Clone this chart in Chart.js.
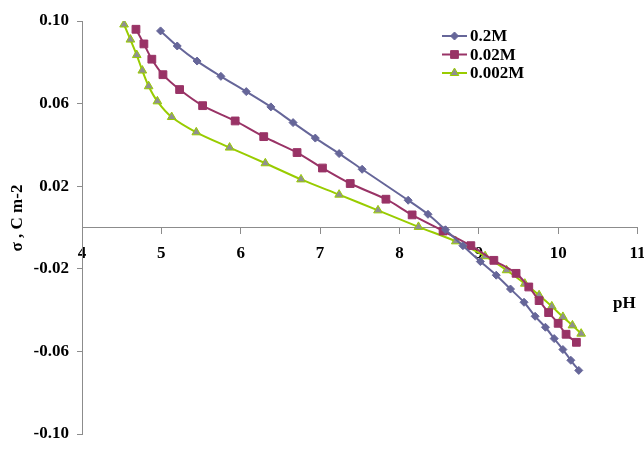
<!DOCTYPE html>
<html>
<head>
<meta charset="utf-8">
<script src="https://cdn.jsdelivr.net/npm/chart.js@4"></script>
<style>
  html, body { margin: 0; padding: 0; background: #fff; }
  #wrap { position: relative; width: 644px; height: 456px; }
</style>
</head>
<body>
<div id="wrap"><canvas id="chart" width="644" height="456"></canvas></div>
<script>
// pH values and surface charge (C m-2) per electrolyte concentration
const ph02   = [4.99, 5.20, 5.45, 5.75, 6.07, 6.38, 6.66, 6.94, 7.24, 7.53, 8.11, 8.36, 8.58, 8.80, 9.02, 9.22, 9.40, 9.57, 9.71, 9.84, 9.95, 10.06, 10.16, 10.26];
const sig02  = [0.0952, 0.0879, 0.0806, 0.0732, 0.0658, 0.0584, 0.0508, 0.0433, 0.0358, 0.0282, 0.0132, 0.0064, -0.0011, -0.0088, -0.0165, -0.0231, -0.0298, -0.0362, -0.0430, -0.0483, -0.0538, -0.0591, -0.0643, -0.0692];

const ph002  = [4.68, 4.78, 4.88, 5.02, 5.23, 5.52, 5.93, 6.29, 6.71, 7.03, 7.38, 7.83, 8.16, 8.55, 8.90, 9.19, 9.47, 9.63, 9.76, 9.88, 10.00, 10.10, 10.23];
const sig002 = [0.0960, 0.0889, 0.0815, 0.0740, 0.0668, 0.0590, 0.0516, 0.0440, 0.0363, 0.0288, 0.0213, 0.0137, 0.0061, -0.0017, -0.0088, -0.0159, -0.0222, -0.0288, -0.0354, -0.0412, -0.0464, -0.0517, -0.0556];

const ph0002  = [4.53, 4.61, 4.69, 4.76, 4.84, 4.95, 5.13, 5.44, 5.86, 6.31, 6.76, 7.24, 7.73, 8.24, 8.71, 9.08, 9.35, 9.58, 9.76, 9.92, 10.06, 10.18, 10.29];
const sig0002 = [0.0983, 0.0910, 0.0835, 0.0760, 0.0684, 0.0611, 0.0535, 0.0461, 0.0387, 0.0311, 0.0233, 0.0159, 0.0083, 0.0003, -0.0067, -0.0139, -0.0207, -0.0272, -0.0328, -0.0382, -0.0433, -0.0474, -0.0514];

const seriesNames = ['0.2M', '0.02M', '0.002M'];
const yTicks = [-0.10, -0.06, -0.02, 0.02, 0.06, 0.10];

const FONT = '"Liberation Serif", "Times New Roman", serif';
const AXIS = '#8c8c8c';

const pts = (xs, ys) => xs.map((x, i) => ({ x, y: ys[i] }));

const STYLES = [
  { color: '#666699', fill: '#666699', point: 'rectRot',  radius: 4 },
  { color: '#993366', fill: '#993366', point: 'rect',     radius: 5.5 },
  { color: '#99cc00', fill: '#909090', point: 'triangle', radius: 5 },
];

const datasets = [pts(ph02, sig02), pts(ph002, sig002), pts(ph0002, sig0002)].map((data, i) => ({
  label:            seriesNames[i],
  data,
  showLine:         true,
  borderColor:      STYLES[i].color,
  borderWidth:      2,
  pointStyle:       STYLES[i].point,
  pointRadius:      STYLES[i].radius,
  pointBackgroundColor: STYLES[i].fill,
  pointBorderColor: STYLES[i].color,
  pointBorderWidth: 1,
  tension:          0.3,
}));

// legend, axis titles
const extras = {
  id: 'extras',
  afterDraw(chart) {
    const ctx = chart.ctx;
    ctx.save();
    ctx.font = `bold 17px ${FONT}`;
    ctx.fillStyle = '#000';
    ctx.textBaseline = 'middle';

    seriesNames.forEach((name, i) => {
      const y = 36 + i * 18.5;
      const s = STYLES[i];
      ctx.strokeStyle = s.color;
      ctx.lineWidth = 2;
      ctx.beginPath(); ctx.moveTo(442, y); ctx.lineTo(467, y); ctx.stroke();
      ctx.fillStyle = s.fill;
      ctx.strokeStyle = s.color;
      ctx.lineWidth = 1;
      Chart.helpers.drawPoint(ctx, { pointStyle: s.point, radius: s.radius, borderWidth: 1 }, 454.5, y);
      ctx.fillStyle = '#000';
      ctx.textAlign = 'left';
      ctx.fillText(name, 470, y + 1);
    });

    ctx.textAlign = 'left';
    ctx.fillText('pH', 613, 304);

    ctx.translate(18, 218);
    ctx.rotate(-Math.PI / 2);
    ctx.textAlign = 'center';
    ctx.fillText('σ , C m-2', 0, 0);
    ctx.restore();
  },
};

new Chart(document.getElementById('chart'), {
  type: 'scatter',
  data: { datasets },
  options: {
    responsive: false,
    animation: false,
    layout: { padding: { left: 0, top: 21, right: 6, bottom: 22 } },
    plugins: { legend: { display: false }, tooltip: { enabled: false } },
    scales: {
      x: {
        type: 'linear',
        position: { y: 0 },
        min: 4, max: 11,
        afterFit: s => { s.paddingLeft = 0; s.paddingRight = 0; },
        ticks: { stepSize: 1, color: '#000', font: { family: FONT, size: 17, weight: 'bold' }, padding: 10, maxRotation: 0 },
        grid: { drawOnChartArea: false, tickLength: 6, color: AXIS },
        border: { color: AXIS, width: 1 },
      },
      y: {
        type: 'linear',
        min: -0.10, max: 0.10,
        afterFit: s => { s.width = 82; s.paddingTop = 0; s.paddingBottom = 0; },
        afterBuildTicks: s => { s.ticks = yTicks.map(v => ({ value: v })); },
        ticks: { color: '#000', font: { family: FONT, size: 17, weight: 'bold' }, padding: 8, callback: v => v.toFixed(2) },
        grid: { drawOnChartArea: false, tickLength: 5, color: AXIS },
        border: { color: AXIS, width: 1 },
      },
    },
  },
  plugins: [extras],
});
</script>
</body>
</html>
